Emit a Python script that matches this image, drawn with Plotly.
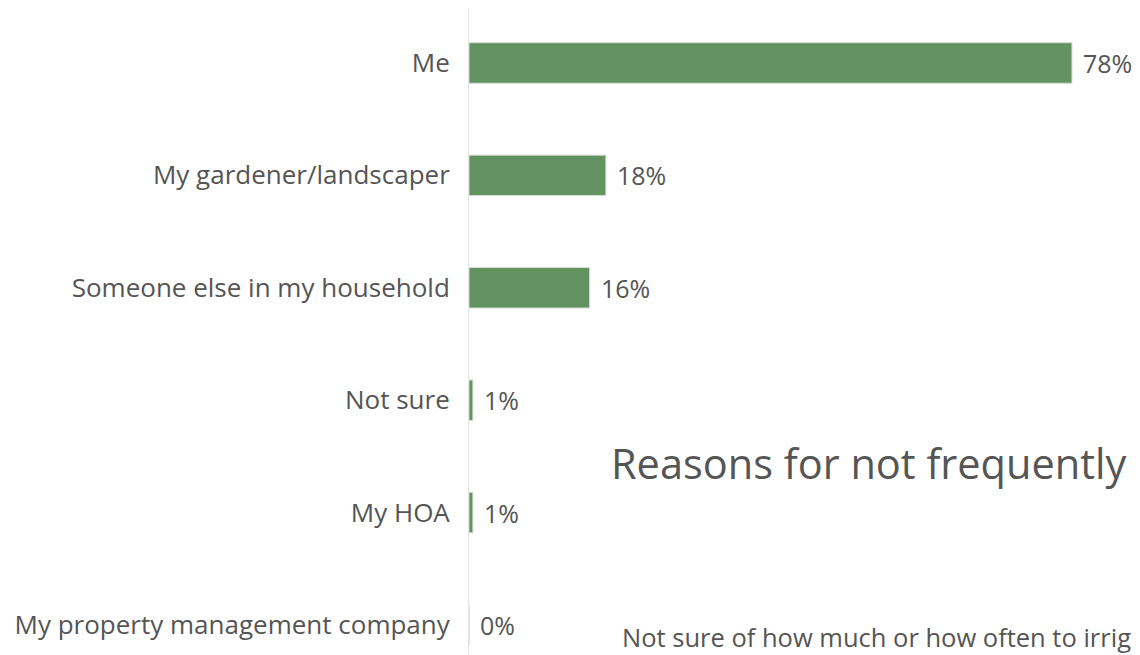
import plotly.graph_objects as go

categories = [
    "Me",
    "My gardener/landscaper",
    "Someone else in my household",
    "Not sure",
    "My HOA",
    "My property management company",
]
values = [78, 17.7, 15.6, 0.5, 0.5, 0]
value_labels = ["78%", "18%", "16%", "1%", "1%", "0%"]

overlay_title = "Reasons for not frequently adjusting irrigation"
overlay_item = "Not sure of how much or how often to irrigate"

FONT = "Open Sans"
TEXT_COLOR = "#555555"
BAR_COLOR = "#639261"

fig = go.Figure()
fig.add_trace(
    go.Bar(
        x=values,
        y=categories,
        orientation="h",
        width=0.36,
        marker=dict(color=BAR_COLOR, line=dict(color="#d4ddd4", width=1)),
        showlegend=False,
        hoverinfo="skip",
    )
)

# value labels just right of each bar end
annotations = [
    dict(
        x=v,
        y=c,
        xref="x",
        yref="y",
        text=t,
        showarrow=False,
        xanchor="left",
        xshift=9,
        font=dict(family=FONT, size=25, color=TEXT_COLOR),
    )
    for c, v, t in zip(categories, values, value_labels)
]

# stray text from another chart bleeding over this one
annotations += [
    dict(
        x=0.208, y=0.297, xref="paper", yref="paper", text=overlay_title,
        showarrow=False, xanchor="left", yanchor="middle",
        font=dict(family=FONT, size=41.5, color=TEXT_COLOR),
    ),
    dict(
        x=0.225, y=0.028, xref="paper", yref="paper", text=overlay_item,
        showarrow=False, xanchor="left", yanchor="middle",
        font=dict(family=FONT, size=25.5, color=TEXT_COLOR),
    ),
]

fig.update_layout(
    width=1140,
    height=655,
    margin=dict(l=461, r=8, t=0, b=8, autoexpand=False),
    plot_bgcolor="white",
    paper_bgcolor="white",
    annotations=annotations,
    font=dict(family=FONT, size=25, color=TEXT_COLOR),
)
fig.update_xaxes(range=[0, 86.8], visible=False)
fig.update_yaxes(
    range=[5.267, -0.489],
    showline=True,
    linecolor="#e3e3e3",
    linewidth=1,
    showgrid=False,
    ticks="",
    ticklabelstandoff=13,
    tickfont=dict(family=FONT, size=26, color=TEXT_COLOR),
)

fig.write_html("out.html")
